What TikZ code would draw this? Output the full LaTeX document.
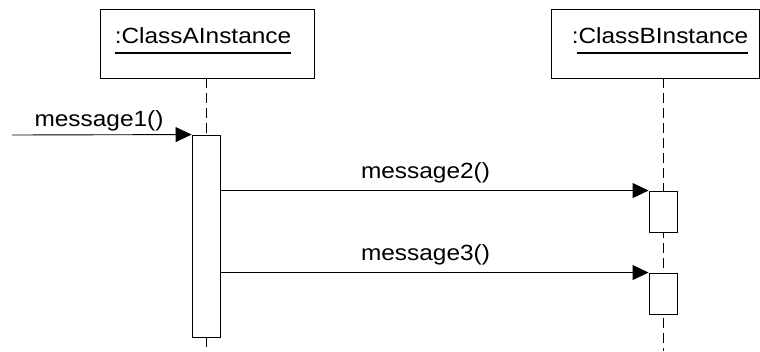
\documentclass[tikz,border=0pt]{standalone}
\usepackage{fontspec}
\setmainfont{Liberation Sans}
\usetikzlibrary{arrows.meta}
\tikzset{
  objbox/.style={draw=black, line width=0.9pt, fill=white, inner sep=0pt},
  actbox/.style={draw=black, line width=0.9pt, fill=white, inner sep=0pt, minimum width=28pt},
  lbl/.style={inner sep=0pt, anchor=base, text=black, font=\fontsize{22pt}{24pt}\selectfont},
  lifeline/.style={draw=black, line width=0.9pt, dash pattern=on 10pt off 5pt},
  msg/.style={draw=black, line width=0.9pt, -{Triangle[length=16pt,width=15pt]}, shorten >=0pt}
}
\newcommand{\wide}[1]{\scalebox{1.11}[1]{#1}}
\begin{document}
\begin{tikzpicture}[x=1pt,y=-1pt]
\useasboundingbox (0,0) rectangle (760,351);
% object boxes
\node[objbox, minimum width=214pt, minimum height=69pt] (boxA) at (207,43.5) {};
\node[objbox, minimum width=208pt, minimum height=69pt] (boxB) at (655,43.5) {};
\node[lbl] (labA) at (203,43) {\wide{:ClassAInstance}};
\node[lbl] (labB) at (660,43) {\wide{:ClassBInstance}};
\draw[line width=2pt] ([yshift=-10pt]labA.base west) -- ([yshift=-10pt]labA.base east);
\draw[line width=2pt] ([xshift=5pt,yshift=-10pt]labB.base west) -- ([yshift=-10pt]labB.base east);
% lifeline coordinates
\coordinate (lAtop) at (206,78);
\coordinate (lAend) at (206,351);
\coordinate (lBtop) at (663,78);
\coordinate (lBend) at (663,351);
% lifelines
\draw[lifeline] (lBtop) -- (lBend);
\draw[lifeline] (lAtop) -- (206,135);
% activations
\node[actbox, minimum height=202pt] (actA) at (206,236) {};
\node[actbox, minimum height=41pt] (actB1) at (663,211.5) {};
\node[actbox, minimum height=41pt] (actB2) at (663,293.5) {};
\draw[lifeline] (actA.south) -- (lAend);
% messages
\coordinate (m1start) at (12,135);
\draw[msg] (m1start) -- (actA.north west);
\draw[msg] (actA.east |- actB1.north west) -- (actB1.north west);
\draw[msg] (actA.east |- actB2.north west) -- (actB2.north west);
\node[lbl] (t1) at (99,126) {\wide{message1()}};
\node[lbl] (t2) at (425.5,178) {\wide{message2()}};
\node[lbl] (t3) at (425.5,260) {\wide{message3()}};
\end{tikzpicture}
\end{document}
